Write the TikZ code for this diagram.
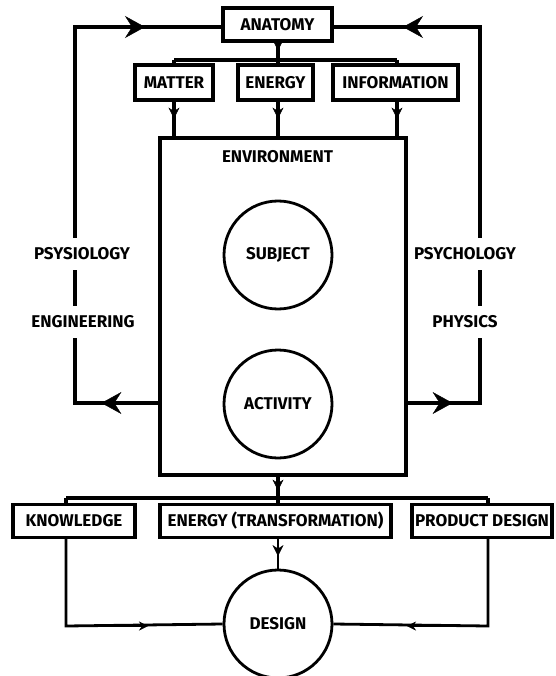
\documentclass[tikz,border=0pt]{standalone}
\usepackage{fontspec}
\setmainfont{Fira Sans}
\usetikzlibrary{arrows.meta}
\begin{document}
\begin{tikzpicture}[x=1pt,y=-1pt,
  every node/.style={font=\fontsize{17}{19}\selectfont\bfseries},
  box/.style={draw,line width=3.2pt,inner sep=0pt,minimum height=33pt},
  circ/.style={draw,circle,line width=2.8pt,minimum size=108pt,inner sep=0pt},
  ln/.style={line width=3.2pt},
  thin ln/.style={line width=2.8pt},
  big/.style={-{Stealth[length=20pt,width=22pt,inset=7pt]}},
  small/.style={-{Stealth[length=11pt,width=11pt,inset=3.5pt]}},
  tiny/.style={-{Stealth[length=9pt,width=9pt,inset=3pt]}},
  lbl/.style={fill=white,inner xsep=2pt,inner ysep=10pt}]
\useasboundingbox (0,0) rectangle (555,676);
% top boxes
\node[box,minimum width=109pt] (anat) at (277.5,24.5) {ANATOMY};
\node[box,minimum width=78pt,minimum height=35pt] (matter) at (174,82.5) {MATTER};
\node[box,minimum width=75pt,minimum height=35pt] (energy) at (275.5,82.5) {ENERGY};
\node[box,minimum width=125pt,minimum height=35pt] (info) at (395.5,82.5) {INFORMATION};
% environment
\node[draw,line width=3.2pt,minimum width=246pt,minimum height=337pt,inner sep=0pt] (env) at (283,306.5) {};
\node (envlbl) at (277.5,157) {ENVIRONMENT};
\node[circ] (subj) at (278,255) {SUBJECT};
\node[circ] (act) at (278,404) {ACTIVITY};
% bottom boxes
\node[box,minimum width=122pt] (know) at (74,521) {KNOWLEDGE};
\node[box,minimum width=231pt] (entr) at (275.5,521) {ENERGY (TRANSFORMATION)};
\node[box,minimum width=140pt] (prod) at (482,521) {PRODUCT DESIGN};
\node[circ] (design) at (278,624) {DESIGN};
% coordinates
\coordinate (tb) at (278,60);
\coordinate (tbl) at (174,60);
\coordinate (tbr) at (397,60);
\coordinate (lt) at (75,27);
\coordinate (lb) at (75,403);
\coordinate (rt) at (480,27);
\coordinate (rb) at (480,403);
\coordinate (bb) at (278,498);
\coordinate (bbl) at (66,498);
\coordinate (bbr) at (488,498);
\coordinate (kc) at (66,626);
\coordinate (pc) at (488,626);
% top tree
\draw[ln] (anat.south -| tb) -- (tb);
\draw[small] (anat.south -| tb) -- ++(0,8);
\draw[ln] (tbl) -- (tbr);
\draw[ln] (tbl) -- (matter.north -| tbl);
\draw[ln] (tbr) -- (info.north -| tbr);
\draw[ln] (tb) -- (energy.north -| tb);
\draw[ln] (matter.south -| tbl) -- (env.north -| tbl);
\draw[ln] (energy.south -| tb) -- (env.north -| tb);
\draw[ln] (info.south -| tbr) -- (env.north -| tbr);
\draw[small] (matter.south -| tbl) -- ++(0,17);
\draw[small] (energy.south -| tb) -- ++(0,17);
\draw[small] (info.south -| tbr) -- ++(0,17);
% side loops
\draw[ln,line join=miter] (env.west |- lb) -- (lb) -- (lt) -- (anat.west |- lt);
\draw[ln,line join=miter] (env.east |- rb) -- (rb) -- (rt) -- (anat.east |- rt);
\draw[big] (lt) -- ++(70,0);
\draw[big] (rt) -- ++(-77,0);
\draw[big] (env.west |- lb) -- ++(-57,0);
\draw[big] (env.east |- rb) -- ++(45,0);
\node[lbl] (psy) at (82,254) {PSYSIOLOGY};
\node[lbl] (eng) at (83,322) {ENGINEERING};
\node[lbl] (psc) at (465,254) {PSYCHOLOGY};
\node[lbl] (phy) at (465,322) {PHYSICS};
% bottom tree
\draw[ln] (env.south -| bb) -- (bb);
\draw[small] (env.south -| bb) -- ++(0,14);
\draw[ln] (bbl) -- (bbr);
\draw[ln] (bbl) -- (know.north -| bbl);
\draw[ln] (bbr) -- (prod.north -| bbr);
\draw[ln] (bb) -- (entr.north -| bb);
\draw[thin ln] (entr.south -| bb) -- (design.north);
\draw[small] (entr.south -| bb) -- ++(0,17);
\draw[thin ln,line join=miter] (know.south -| kc) -- (kc) -- (design.west);
\draw[thin ln,line join=miter] (prod.south -| pc) -- (pc) -- (design.east);
\draw[tiny] (kc) -- ++(82,0);
\draw[tiny] (pc) -- ++(-81,0);
\end{tikzpicture}
\end{document}
